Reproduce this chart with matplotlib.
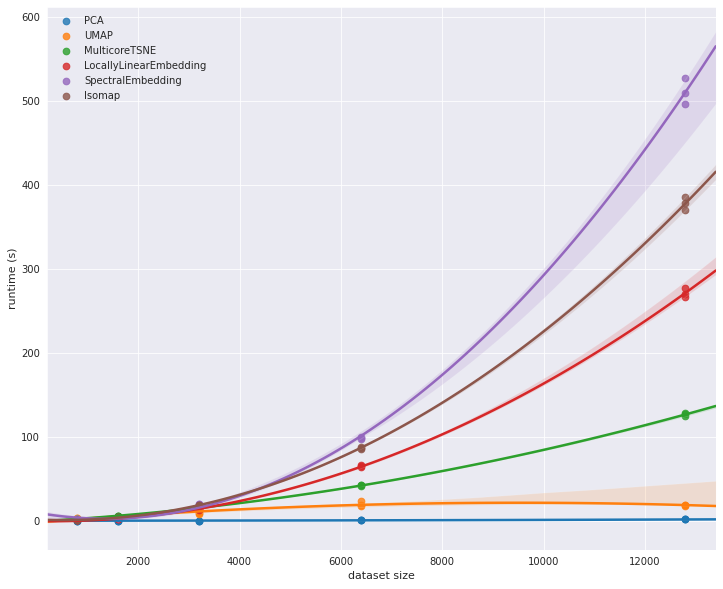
import numpy as np
import pandas as pd
import seaborn as sns
import matplotlib.pyplot as plt

# dataset sizes, 3 runs each
sizes = [800, 1600, 3200, 6400, 12800]

# runtimes (s) per algorithm, one row of 3 runs per size
pca = [[0.05, 0.05, 0.06], [0.1, 0.1, 0.1], [0.2, 0.2, 0.2], [0.5, 0.5, 0.5], [1.5, 1.5, 1.6]]
umap = [[2.5, 2.8, 3.0], [4.5, 4.8, 5.0], [8.3, 9.5, 11.0], [18.0, 19.0, 23.0], [18.0, 18.5, 19.0]]
tsne = [[2.0, 2.1, 2.2], [5.8, 6.0, 6.2], [15.0, 15.5, 16.0], [41.0, 42.0, 42.5], [125.0, 127.0, 128.0]]
lle = [[0.5, 0.5, 0.6], [2.0, 2.1, 2.2], [13.0, 13.5, 14.0], [64.0, 65.0, 66.0], [267.0, 270.0, 277.0]]
spectral = [[1.5, 1.5, 1.6], [3.0, 3.2, 3.4], [18.5, 19.5, 20.0], [97.0, 99.0, 100.0], [496.0, 510.0, 527.0]]
isomap = [[0.5, 0.6, 0.7], [4.0, 4.2, 4.4], [18.0, 18.5, 19.0], [86.0, 87.0, 88.0], [370.0, 378.0, 386.0]]

algorithms = ['PCA', 'UMAP', 'MulticoreTSNE', 'LocallyLinearEmbedding', 'SpectralEmbedding', 'Isomap']
runtimes = [pca, umap, tsne, lle, spectral, isomap]

rows = []
for name, runs in zip(algorithms, runtimes):
    for size, vals in zip(sizes, runs):
        for v in vals:
            rows.append({'algorithm': name, 'dataset size': size, 'runtime (s)': v})
df = pd.DataFrame(rows)

sns.set_style('darkgrid')
plt.rcParams['font.family'] = ['DejaVu Sans']
plt.rcParams['xtick.labelsize'] = 10
plt.rcParams['ytick.labelsize'] = 10
plt.rcParams['axes.labelsize'] = 11

fig = plt.figure(figsize=(723 / 72, 589 / 72), dpi=72)
ax = fig.add_axes([0.065, 0.066, 0.925, 0.922])
ax.set_xlim(200, 13400)

for name in algorithms:
    sub = df[df['algorithm'] == name]
    sns.regplot(x='dataset size', y='runtime (s)', data=sub, order=2, truncate=False,
                label=name, ax=ax, seed=11, scatter_kws={'s': 45},
                line_kws={'lw': 2.5})

ax.set_xlim(200, 13400)
ax.set_ylim(-35, 612)
ax.legend(loc='upper left', frameon=False, fontsize=10)

fig.savefig('out.png', dpi=72)
